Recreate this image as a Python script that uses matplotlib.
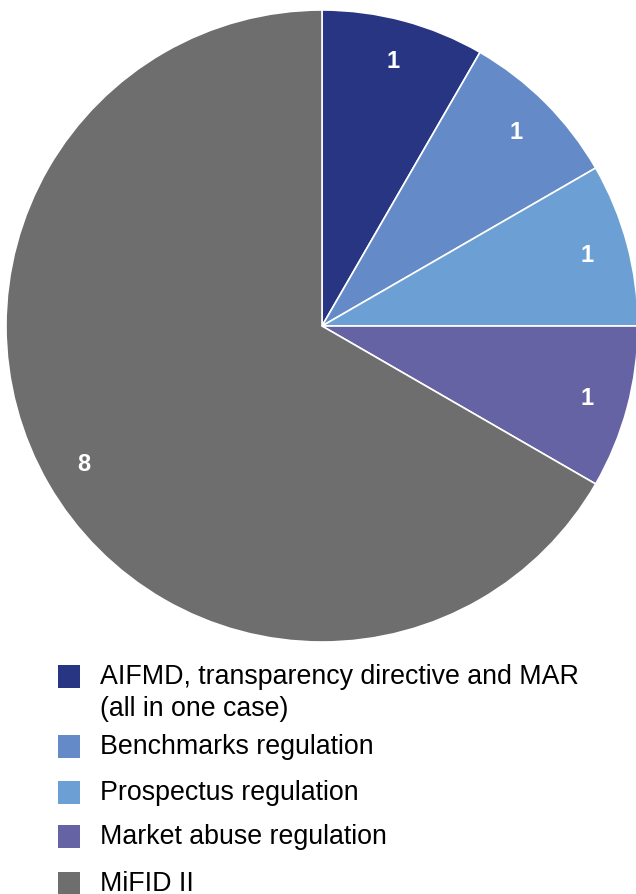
import matplotlib
matplotlib.use("Agg")
import matplotlib.pyplot as plt
from matplotlib.patches import Rectangle

plt.rcParams['font.family'] = ['Liberation Sans', 'DejaVu Sans']

categories = ["AIFMD, transparency directive and MAR\n(all in one case)",
              "Benchmarks regulation",
              "Prospectus regulation",
              "Market abuse regulation",
              "MiFID II"]
values = [1, 1, 1, 1, 8]
colors = ["#283583", "#648bc8", "#6ca0d4", "#6663a4", "#6e6e6e"]

W, H = 636, 895
fig = plt.figure(figsize=(W / 100, H / 100), dpi=100)

# pie axes: center (322, 327), radius 316 px
cx, cy, r = 322, 327, 316
ax = fig.add_axes([(cx - r) / W, (H - cy - r) / H, 2 * r / W, 2 * r / H])
total = sum(values)
wedges, texts, autotexts = ax.pie(
    values, colors=colors, startangle=90, counterclock=False,
    wedgeprops=dict(edgecolor="white", linewidth=1.2),
    autopct=lambda p: f"{round(p * total / 100):d}", pctdistance=0.87,
    textprops=dict(color="white", fontsize=17, fontweight="bold"))
ax.set_xlim(-1, 1)
ax.set_ylim(-1, 1)
ax.set_aspect("equal")
ax.axis("off")

# legend, drawn manually
tops = [666, 736, 782, 826, 873]
for lab, col, top in zip(categories, colors, tops):
    fig.patches.append(Rectangle((58 / W, (H - top - 23) / H), 22 / W, 23 / H,
                                 transform=fig.transFigure, facecolor=col,
                                 edgecolor="none"))
    fig.text(100 / W, (H - top + 2) / H, lab, fontsize=19.3, va="top", ha="left",
             color="black", linespacing=1.28)

fig.savefig("out.png", dpi=100)
